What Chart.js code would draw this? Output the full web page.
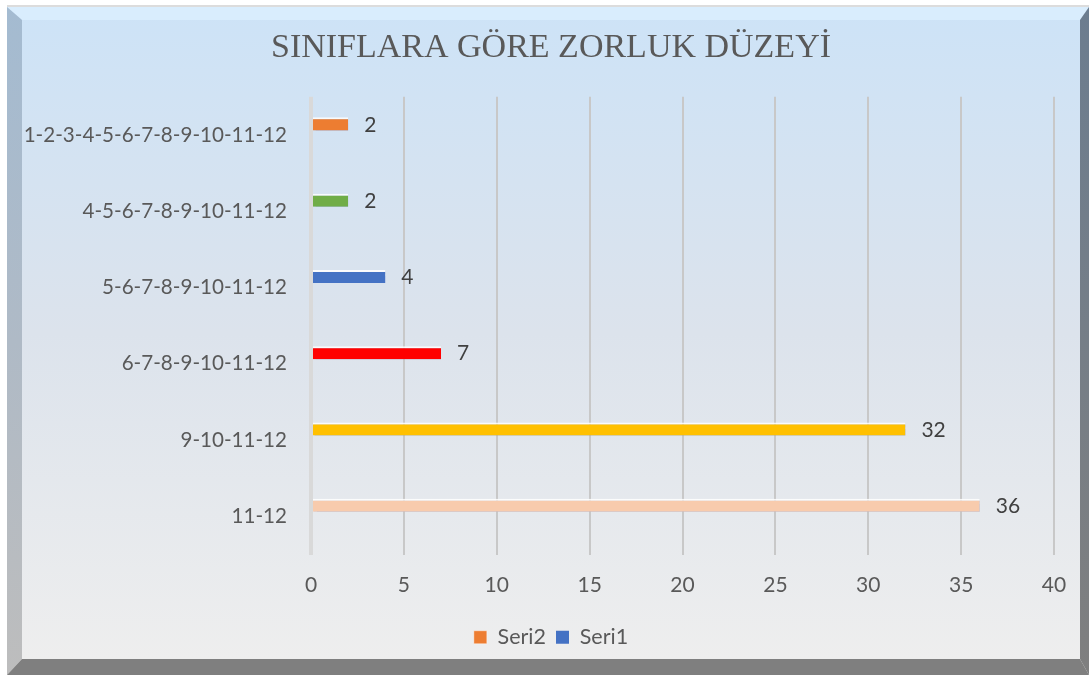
<!DOCTYPE html>
<html>
<head>
<meta charset="utf-8">
<script src="https://cdn.jsdelivr.net/npm/chart.js@4/dist/chart.umd.min.js"></script>
<style>
html,body{margin:0;padding:0;background:#fff;}
#wrap{position:relative;width:1089px;height:675px;}
canvas{display:block;}
</style>
</head>
<body>
<div id="wrap"><canvas id="c" width="1089" height="675"></canvas></div>
<script>
const titleText = 'SINIFLARA GÖRE ZORLUK DÜZEYİ';
const categories = ['1-2-3-4-5-6-7-8-9-10-11-12', '4-5-6-7-8-9-10-11-12', '5-6-7-8-9-10-11-12', '6-7-8-9-10-11-12', '9-10-11-12', '11-12'];
const seri2Values = [2, 2, 4, 7, 32, 36];
const seri1Values = [null, null, null, null, null, null];
const barColors = ['#ED7D31', '#70AD47', '#4472C4', '#FF0000', '#FFC000', '#F8CBAD'];
const xTicks = [0, 5, 10, 15, 20, 25, 30, 35, 40];

const FONT = 'Lato, "Open Sans", sans-serif';
const TEXT = '#595959';

const framePlugin = {
  id: 'frame',
  beforeDraw(chart) {
    const ctx = chart.ctx;
    const W = chart.width, H = chart.height;
    ctx.save();
    ctx.fillStyle = '#ffffff';
    ctx.fillRect(0, 0, W, H);
    ctx.fillStyle = '#dcdcdc';
    ctx.fillRect(7, 5, W - 7, 2);
    const L = 7, T = 7, R = 1089, B = 675;
    const iL = 22, iT = 20, iR = 1080, iB = 659;
    const g = ctx.createLinearGradient(0, T, 0, iB);
    g.addColorStop(0, '#cde3f7');
    g.addColorStop(0.5, '#dce3ec');
    g.addColorStop(1, '#eeeeee');
    ctx.fillStyle = g;
    ctx.fillRect(L, T, R - L, B - T);
    ctx.fillStyle = 'rgba(220,240,255,0.75)';
    ctx.beginPath();
    ctx.moveTo(L, T); ctx.lineTo(R, T); ctx.lineTo(iR, iT); ctx.lineTo(iL, iT); ctx.closePath();
    ctx.fill();
    const gl = ctx.createLinearGradient(0, T, 0, B);
    gl.addColorStop(0, '#a4bbd1');
    gl.addColorStop(0.5, '#afbac6');
    gl.addColorStop(1, '#bdbdbd');
    ctx.fillStyle = gl;
    ctx.beginPath();
    ctx.moveTo(L, T); ctx.lineTo(iL, iT); ctx.lineTo(iL, iB); ctx.lineTo(L, B); ctx.closePath();
    ctx.fill();
    const gr = ctx.createLinearGradient(0, T, 0, B);
    gr.addColorStop(0, '#6c7d8f');
    gr.addColorStop(1, '#7f7f7f');
    ctx.fillStyle = gr;
    ctx.beginPath();
    ctx.moveTo(R, T); ctx.lineTo(R, B); ctx.lineTo(iR, iB); ctx.lineTo(iR, iT); ctx.closePath();
    ctx.fill();
    ctx.fillStyle = '#7f7f7f';
    ctx.beginPath();
    ctx.moveTo(L, B); ctx.lineTo(iL, iB); ctx.lineTo(iR, iB); ctx.lineTo(R, B); ctx.closePath();
    ctx.fill();
    ctx.restore();
  },
  beforeDatasetsDraw(chart) {
    const ctx = chart.ctx;
    ctx.save();
    ctx.shadowColor = 'rgba(120,150,215,0.55)';
    ctx.shadowOffsetX = 1;
    ctx.shadowOffsetY = 2;
    ctx.shadowBlur = 1;
  },
  afterDatasetsDraw(chart) {
    const ctx = chart.ctx;
    ctx.restore();
    ctx.save();
    ctx.font = '21px ' + FONT;
    ctx.fillStyle = '#404040';
    ctx.textAlign = 'left';
    ctx.textBaseline = 'middle';
    chart.data.datasets.forEach((ds, di) => {
      const meta = chart.getDatasetMeta(di);
      meta.data.forEach((el, i) => {
        const v = ds.data[i];
        if (v === null || v === undefined) return;
        ctx.fillText(String(v), el.x + 16, el.y + 1);
      });
    });
    ctx.restore();
  }
};

new Chart(document.getElementById('c'), {
  type: 'bar',
  data: {
    labels: categories,
    datasets: [
      {
        label: 'Seri2',
        data: seri2Values,
        backgroundColor: barColors,
        borderColor: 'rgba(255,255,255,0.85)',
        borderWidth: {top: 2, right: 0, bottom: 0, left: 0},
        borderSkipped: false,
        categoryPercentage: 0.58,
        barPercentage: 0.59
      },
      {
        label: 'Seri1',
        data: seri1Values,
        backgroundColor: '#4472C4',
        categoryPercentage: 0.58,
        barPercentage: 0.59
      }
    ]
  },
  options: {
    indexAxis: 'y',
    responsive: false,
    animation: false,
    events: [],
    layout: { padding: { left: 22, right: 9, top: 0, bottom: 17 } },
    scales: {
      x: {
        min: 0, max: 40,
        afterBuildTicks(scale) { scale.ticks = xTicks.map(v => ({ value: v })); },
        grid: {
          drawTicks: false,
          color: (c) => c.index === 0 ? '#d9d9d9' : '#c8c8c8',
          lineWidth: (c) => c.index === 0 ? 4 : 2
        },
        border: { display: false },
        ticks: { color: TEXT, font: { family: FONT, size: 21 }, padding: 18 },
        afterFit(scale) { scale.height = 62; }
      },
      y: {
        grid: { display: false, drawTicks: false },
        border: { display: false },
        ticks: { color: TEXT, font: { family: FONT, size: 20.6 }, padding: 24 },
        afterFit(scale) { scale.width = 289; }
      },
      spacer: {
        type: 'linear',
        position: 'right',
        display: true,
        grid: { display: false, drawTicks: false },
        border: { display: false },
        ticks: { display: false },
        afterFit(scale) { scale.width = 26; }
      }
    },
    plugins: {
      title: {
        display: true,
        text: titleText,
        color: TEXT,
        font: { family: '"Liberation Serif", "Times New Roman", serif', size: 34, weight: 'normal' },
        padding: { top: 28, bottom: 28 }
      },
      legend: {
        position: 'bottom',
        labels: {
          color: TEXT,
          font: { family: FONT, size: 21.5 },
          boxWidth: 13,
          boxHeight: 13,
          padding: 10
        }
      },
      tooltip: { enabled: false }
    }
  },
  plugins: [framePlugin]
});
</script>
</body>
</html>
